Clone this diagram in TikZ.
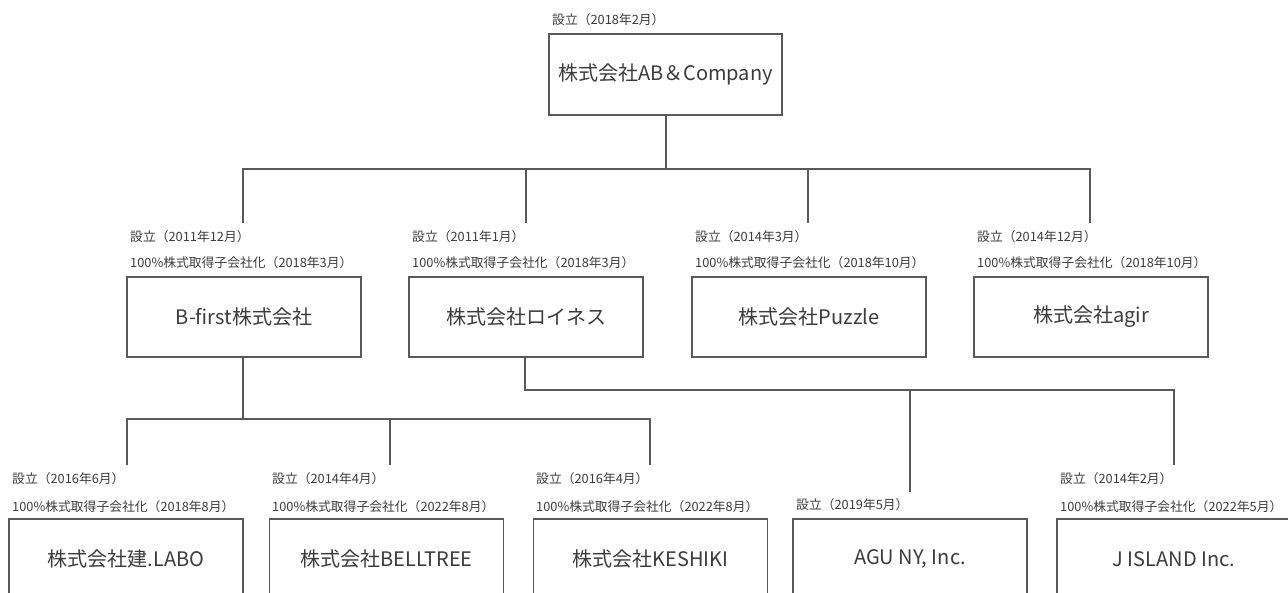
\documentclass[tikz,border=0pt]{standalone}
\usepackage{fontspec}
\setmainfont{Noto Sans CJK JP}
\begin{document}
\begin{tikzpicture}[x=1pt,y=-1pt,
  box/.style={draw=linec,line width=1.3pt,minimum width=234pt,minimum height=80pt,inner sep=0pt,font=\fontsize{20}{22}\selectfont,text=textc},
  lbl/.style={anchor=west,inner sep=0pt,font=\fontsize{12.8}{14}\selectfont,text=textc},
  conn/.style={draw=linec,line width=1.3pt}]
\definecolor{linec}{HTML}{5A5A5A}
\definecolor{textc}{HTML}{3C3C3C}
\useasboundingbox[fill=white] (0,0) rectangle (1288,592);
% boxes
\node[box,minimum width=233pt,minimum height=81pt] (top) at (665.5,74.5) {株式会社AB＆Company};
\node[box] (bfirst) at (244,317) {B-first株式会社};
\node[box] (roines) at (526,317) {株式会社ロイネス};
\node[box] (puzzle) at (809,317) {株式会社Puzzle};
\node[box] (agir) at (1091,317) {株式会社agir};
\node[box] (labo) at (126,559) {株式会社建.LABO};
\node[box] (bell) at (386.5,559) {株式会社BELLTREE};
\node[box] (kesh) at (650.5,559) {株式会社KESHIKI};
\node[box] (agu) at (910,559) {AGU NY, Inc.};
\node[box] (jisl) at (1174,559) {J ISLAND Inc.};
% labels
\node[lbl] (ltop) at (552,20) {設立（2018年2月）};
\node[lbl] (lb1) at (130,237) {設立（2011年12月）};
\node[lbl] (lb2) at (130,263) {100\%株式取得子会社化（2018年3月）};
\node[lbl] (lr1) at (412,237) {設立（2011年1月）};
\node[lbl] (lr2) at (412,263) {100\%株式取得子会社化（2018年3月）};
\node[lbl] (lp1) at (695,237) {設立（2014年3月）};
\node[lbl] (lp2) at (695,263) {100\%株式取得子会社化（2018年10月）};
\node[lbl] (la1) at (977,237) {設立（2014年12月）};
\node[lbl] (la2) at (977,263) {100\%株式取得子会社化（2018年10月）};
\node[lbl] (ll1) at (12,479) {設立（2016年6月）};
\node[lbl] (ll2) at (12,507) {100\%株式取得子会社化（2018年8月）};
\node[lbl] (lbe1) at (272,479) {設立（2014年4月）};
\node[lbl] (lbe2) at (272,507) {100\%株式取得子会社化（2022年8月）};
\node[lbl] (lk1) at (536,479) {設立（2016年4月）};
\node[lbl] (lk2) at (536,507) {100\%株式取得子会社化（2022年8月）};
\node[lbl] (lg1) at (796,505) {設立（2019年5月）};
\node[lbl] (lj1) at (1060,479) {設立（2014年2月）};
\node[lbl] (lj2) at (1060,507) {100\%株式取得子会社化（2022年5月）};
% junction coordinates
\coordinate (j1) at (666,169);
\coordinate (j2) at (243,419);
\coordinate (j3) at (525,390);
% top level connectors
\draw[conn] (top.south -| j1) -- (j1);
\draw[conn] (243,223) -- (243,169) -- (1090,169) -- (1090,223);
\draw[conn] (526,169) -- (526,223);
\draw[conn] (808,169) -- (808,223);
% B-first connectors
\draw[conn] (bfirst.south -| j2) -- (j2);
\draw[conn] (127,465) -- (127,419) -- (650,419) -- (650,465);
\draw[conn] (390,419) -- (390,465);
% Roines connectors
\draw[conn] (roines.south -| j3) -- (j3) -- (1174,390) -- (1174,465);
\draw[conn] (910,390) -- (910,492);
\end{tikzpicture}
\end{document}
